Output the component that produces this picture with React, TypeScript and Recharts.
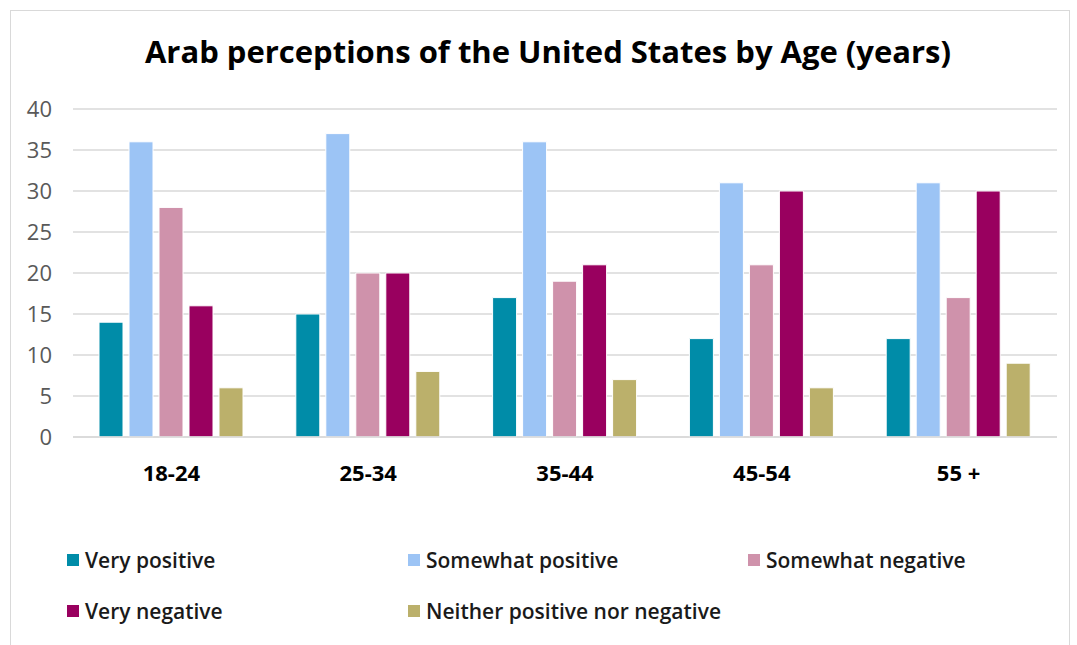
import { BarChart, Bar, XAxis, YAxis, CartesianGrid } from 'recharts';

const ageGroups = ['18-24', '25-34', '35-44', '45-54', '55 +'];
const veryPositive = [14, 15, 17, 12, 12];
const somewhatPositive = [36, 37, 36, 31, 31];
const somewhatNegative = [28, 20, 19, 21, 17];
const veryNegative = [16, 20, 21, 30, 30];
const neither = [6, 8, 7, 6, 9];
const yTicks = [0, 5, 10, 15, 20, 25, 30, 35, 40];

const series = [
  { key: 'Very positive', values: veryPositive, color: '#008ca8' },
  { key: 'Somewhat positive', values: somewhatPositive, color: '#9cc4f5' },
  { key: 'Somewhat negative', values: somewhatNegative, color: '#cf92ab' },
  { key: 'Very negative', values: veryNegative, color: '#99005f' },
  { key: 'Neither positive nor negative', values: neither, color: '#bbb06b' },
];

const data = ageGroups.map((age, i) => {
  const row: Record<string, string | number> = { age };
  series.forEach(s => { row[s.key] = s.values[i]; });
  return row;
});

const FONT = '"Open Sans", Lato, sans-serif';

// legend slots, Excel-style grid of 3 columns
const legendSpots = [
  { left: 67, top: 560 },
  { left: 408, top: 560 },
  { left: 748, top: 560 },
  { left: 67, top: 611 },
  { left: 408, top: 611 },
];

export default function App() {
  return (
    <div style={{ position: 'absolute', left: 0, top: 0, width: 1077, height: 645, background: '#fff', overflow: 'hidden' }}>
      <div style={{ position: 'absolute', left: 10, top: 10, width: 1060, height: 640, border: '1px solid #d9d9d9', boxSizing: 'border-box' }} />
      <div style={{
        position: 'absolute', left: 0, top: 36, width: 1096, textAlign: 'center',
        fontFamily: FONT, fontWeight: 700, fontSize: 31, color: '#000', lineHeight: 1,
      }}>
        Arab perceptions of the United States by Age (years)
      </div>
      <BarChart
        width={1077}
        height={645}
        data={data}
        margin={{ top: 109, right: 20, left: 0, bottom: 178 }}
        barCategoryGap={26}
        barGap={6}
        style={{ position: 'absolute', left: 0, top: 0 }}
      >
        <CartesianGrid vertical={false} stroke="#d9d9d9" strokeWidth={1.5} />
        <XAxis
          dataKey="age"
          axisLine={{ stroke: '#d9d9d9', strokeWidth: 1.5 }}
          tickLine={false}
          height={30}
          tickMargin={22}
          tick={{ fill: '#000', fontSize: 22, fontWeight: 700, fontFamily: FONT }}
        />
        <YAxis
          domain={[0, 40]}
          ticks={yTicks}
          axisLine={false}
          tickLine={false}
          tickSize={0}
          tickMargin={21}
          width={73}
          tick={{ fill: '#595959', fontSize: 22, fontFamily: FONT }}
        />
        {series.map(s => (
          <Bar key={s.key} dataKey={s.key} fill={s.color} stroke="#fff" strokeWidth={1} isAnimationActive={false} />
        ))}
      </BarChart>
      {series.map((s, i) => (
        <div key={s.key} style={{
          position: 'absolute', left: legendSpots[i].left, top: legendSpots[i].top,
          transform: 'translateY(-50%)',
          display: 'flex', alignItems: 'center', gap: 6, whiteSpace: 'nowrap',
        }}>
          <div style={{ width: 12, height: 12, background: s.color }} />
          <span style={{ fontFamily: FONT, fontWeight: 600, fontSize: 21, color: '#1a1a1a' }}>{s.key}</span>
        </div>
      ))}
    </div>
  );
}
